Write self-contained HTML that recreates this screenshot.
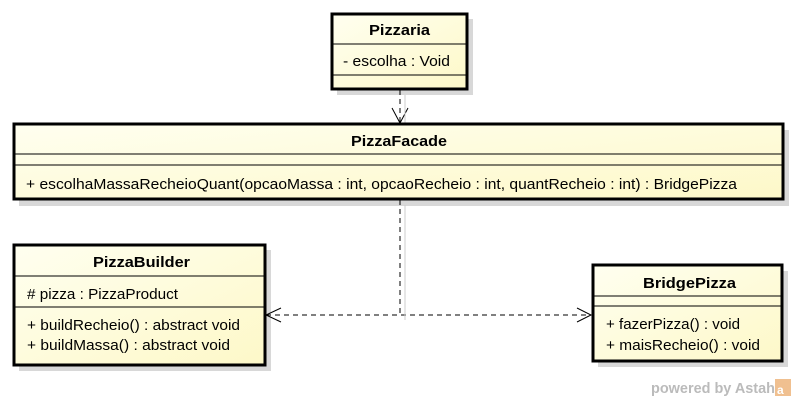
<!DOCTYPE html>
<html><head><meta charset="utf-8"><style>
html,body{margin:0;padding:0;background:#fff;width:796px;height:401px;overflow:hidden}
svg text{font-family:"Liberation Sans",sans-serif;font-size:14.5px;fill:#000}
.b{font-weight:bold;font-size:15px}
</style></head><body>
<svg width="796" height="401" xmlns="http://www.w3.org/2000/svg">
<defs>
<linearGradient id="g" x1="0" y1="0" x2="1" y2="1">
<stop offset="0" stop-color="#fffff0"/><stop offset="1" stop-color="#fdf8c8"/>
</linearGradient>
</defs>
<g fill="#d8d8d8">
<rect x="337" y="19" width="136" height="76"/>
<rect x="19" y="130" width="770" height="76"/>
<rect x="19" y="250" width="252" height="121"/>
<rect x="598" y="271" width="190" height="96"/>
</g>
<g stroke="#000" stroke-width="1" fill="none">
<line x1="400" y1="90" x2="400" y2="123" stroke-dasharray="5,4"/>
<polyline points="392,108 400,123 408,108"/>
<line x1="400" y1="200" x2="400" y2="315" stroke-dasharray="5,4"/>
<line x1="266" y1="315" x2="591" y2="315" stroke-dasharray="5,4"/>
<polyline points="281,308 266,315 281,322"/>
<polyline points="577,308 591,315 577,322"/>
</g>
<g stroke="#ccc" stroke-width="1" fill="none">
<line x1="405" y1="95" x2="405" y2="123"/>
<line x1="405" y1="205" x2="405" y2="320"/>
</g>
<rect x="332" y="14" width="135" height="75" fill="url(#g)" stroke="#000" stroke-width="3"/>
<line x1="332" y1="44" x2="467" y2="44" stroke="#000"/>
<line x1="332" y1="75" x2="467" y2="75" stroke="#000"/>
<text x="369" y="35" class="b" textLength="61" lengthAdjust="spacingAndGlyphs">Pizzaria</text>
<text x="343" y="66" textLength="107" lengthAdjust="spacingAndGlyphs">- escolha : Void</text>
<rect x="14" y="124" width="769" height="75" fill="url(#g)" stroke="#000" stroke-width="3"/>
<line x1="14" y1="154" x2="783" y2="154" stroke="#000"/>
<line x1="14" y1="165" x2="783" y2="165" stroke="#000"/>
<text x="351" y="146" class="b" textLength="96" lengthAdjust="spacingAndGlyphs">PizzaFacade</text>
<text x="26" y="189" textLength="711" lengthAdjust="spacingAndGlyphs">+ escolhaMassaRecheioQuant(opcaoMassa : int, opcaoRecheio : int, quantRecheio : int) : BridgePizza</text>
<rect x="14" y="245" width="251" height="120" fill="url(#g)" stroke="#000" stroke-width="3"/>
<line x1="14" y1="276" x2="265" y2="276" stroke="#000"/>
<line x1="14" y1="307" x2="265" y2="307" stroke="#000"/>
<text x="93" y="267" class="b" textLength="97" lengthAdjust="spacingAndGlyphs">PizzaBuilder</text>
<text x="27" y="299" textLength="151" lengthAdjust="spacingAndGlyphs"># pizza : PizzaProduct</text>
<text x="27" y="330" textLength="213" lengthAdjust="spacingAndGlyphs">+ buildRecheio() : abstract void</text>
<text x="27" y="350" textLength="203" lengthAdjust="spacingAndGlyphs">+ buildMassa() : abstract void</text>
<rect x="593" y="265" width="189" height="96" fill="url(#g)" stroke="#000" stroke-width="3"/>
<line x1="593" y1="296" x2="782" y2="296" stroke="#000"/>
<line x1="593" y1="306" x2="782" y2="306" stroke="#000"/>
<text x="643" y="288" class="b" textLength="93" lengthAdjust="spacingAndGlyphs">BridgePizza</text>
<text x="606" y="329" textLength="134" lengthAdjust="spacingAndGlyphs">+ fazerPizza() : void</text>
<text x="606" y="350" textLength="154" lengthAdjust="spacingAndGlyphs">+ maisRecheio() : void</text>
<text x="651" y="393" style="font-size:15px;font-weight:bold;fill:#bbb" textLength="124" lengthAdjust="spacingAndGlyphs">powered by Astah</text>
<rect x="775" y="379" width="16" height="17" fill="#f0c090"/>
<text x="777" y="394" style="font-size:12px;fill:#fff;font-weight:bold">a</text>
</svg>
</body></html>
